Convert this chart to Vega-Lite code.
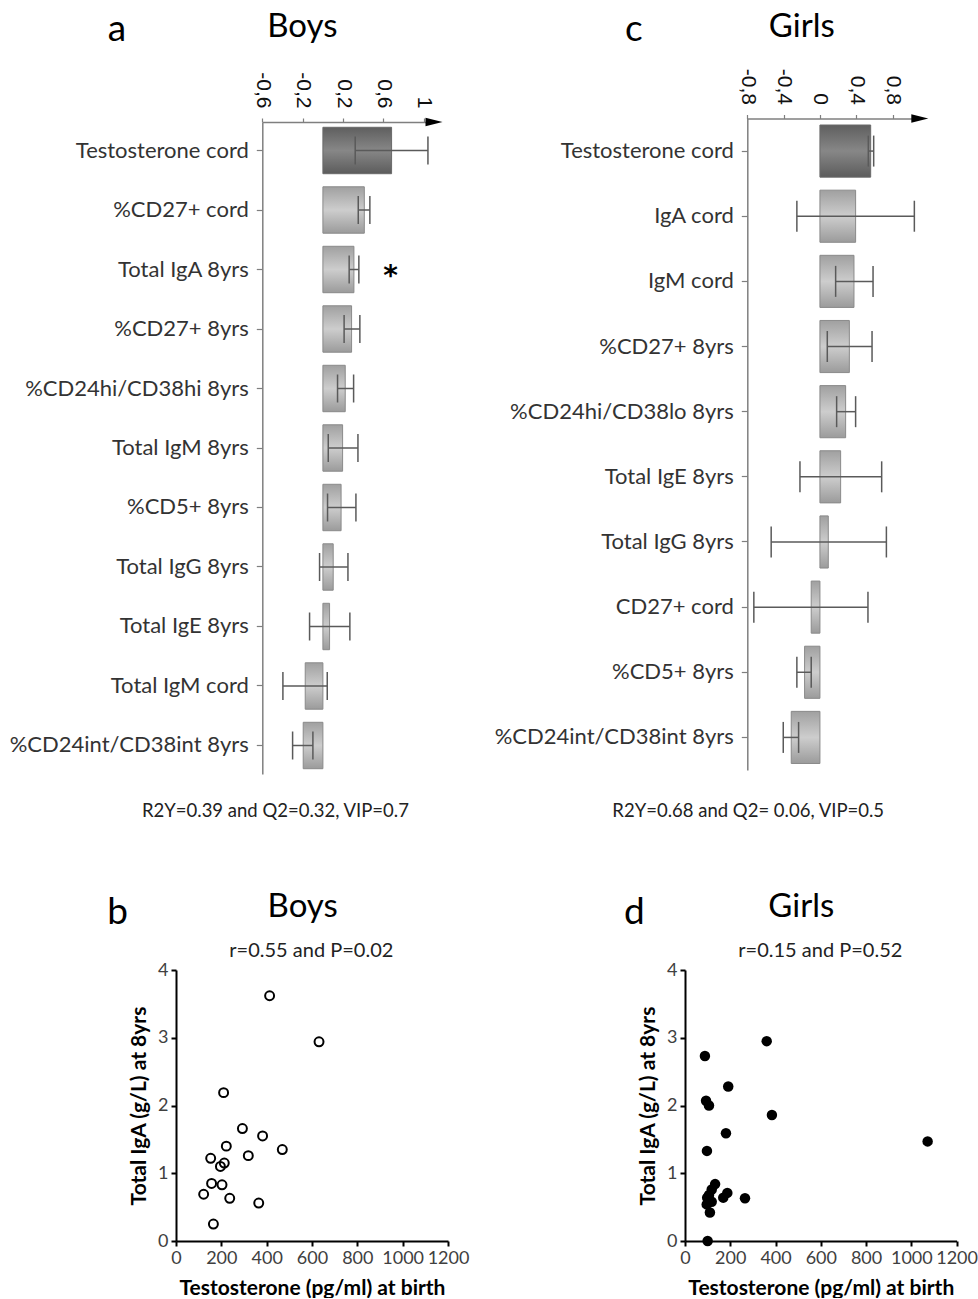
{
  "$schema": "https://vega.github.io/schema/vega-lite/v6.json",
  "background": "white",
  "padding": {"left": 9, "top": 10, "right": 0, "bottom": 0},
  "config": {"view": {"stroke": null}, "font": "Lato"},
  "spacing": 25,
  "hconcat": [
    {
      "spacing": 70,
      "vconcat": [
        {
          "width": 266.3,
          "height": 652,
          "resolve": {"scale": {"y": "independent"}, "axis": {"y": "independent"}},
          "layer": [
            {
              "data": {"values": [
                {"label": "Testosterone cord", "grp": "dark", "v": 0.68, "lo": 0.32, "hi": 1.04},
                {"label": "%CD27+ cord", "grp": "light", "v": 0.41, "lo": 0.35, "hi": 0.465},
                {"label": "Total IgA 8yrs", "grp": "light", "v": 0.307, "lo": 0.26, "hi": 0.356},
                {"label": "%CD27+ 8yrs", "grp": "light", "v": 0.284, "lo": 0.21, "hi": 0.366},
                {"label": "%CD24hi/CD38hi 8yrs", "grp": "light", "v": 0.221, "lo": 0.145, "hi": 0.304},
                {"label": "Total IgM 8yrs", "grp": "light", "v": 0.195, "lo": 0.053, "hi": 0.347},
                {"label": "%CD5+ 8yrs", "grp": "light", "v": 0.18, "lo": 0.046, "hi": 0.327},
                {"label": "Total IgG 8yrs", "grp": "light", "v": 0.102, "lo": -0.033, "hi": 0.248},
                {"label": "Total IgE 8yrs", "grp": "light", "v": 0.066, "lo": -0.132, "hi": 0.267},
                {"label": "Total IgM cord", "grp": "light", "v": -0.175, "lo": -0.396, "hi": 0.043},
                {"label": "%CD24int/CD38int 8yrs", "grp": "light", "v": -0.195, "lo": -0.3, "hi": -0.099}
              ]},
              "encoding": {
                "y": {"field": "label", "type": "nominal", "sort": null,
                  "scale": {"paddingInner": 0.22, "paddingOuter": 0.089},
                  "axis": {"orient": "left", "offset": -86.3, "title": null, "domainColor": "#7f7f7f", "domainWidth": 1.5,
                    "tickColor": "#7f7f7f", "tickSize": 6, "tickWidth": 1.2, "labelFont": "Lato", "labelFontSize": 22,
                    "labelColor": "#333333", "labelPadding": 8, "labelLimit": 400}}
              },
              "layer": [
                {
                  "transform": [{"filter": "datum.grp === 'dark'"}],
                  "mark": {"type": "bar", "stroke": "#6a6a6a", "strokeWidth": 1,
                    "fill": {"gradient": "linear", "x1": 0, "y1": 0, "x2": 0, "y2": 1,
                      "stops": [{"offset": 0, "color": "#5f5f5f"}, {"offset": 0.5, "color": "#878787"}, {"offset": 1, "color": "#5c5c5c"}]}},
                  "encoding": {
                    "x": {"field": "v", "type": "quantitative",
                      "scale": {"domain": [-0.6, 1.1], "range": [86.3, 258.0], "nice": false, "zero": false},
                      "axis": {"orient": "top", "title": null, "values": [-0.6, -0.2, 0.2, 0.6, 1], "format": "~g",
                        "labelExpr": "replace(replace(datum.label, '.', ','), '\u2212', '-')",
                        "labelAngle": 90, "labelFont": "Liberation Sans", "labelFontSize": 21, "labelColor": "#111111",
                        "labelPadding": 10, "labelFlush": false, "labelOverlap": false, "grid": false,
                        "domainColor": "#7f7f7f", "domainWidth": 1.5, "tickColor": "#7f7f7f", "tickSize": 4, "tickWidth": 1.2}},
                    "x2": {"datum": 0}
                  }
                },
                {
                  "transform": [{"filter": "datum.grp === 'light'"}],
                  "mark": {"type": "bar", "stroke": "#8a8a8a", "strokeWidth": 1,
                    "fill": {"gradient": "linear", "x1": 0, "y1": 0, "x2": 0, "y2": 1,
                      "stops": [{"offset": 0, "color": "#a0a0a0"}, {"offset": 0.5, "color": "#cdcdcd"}, {"offset": 1, "color": "#9b9b9b"}]}},
                  "encoding": {"x": {"field": "v", "type": "quantitative"}, "x2": {"datum": 0}}
                },
                {
                  "mark": {"type": "rule", "color": "#5a5a5a", "strokeWidth": 1.5},
                  "encoding": {"x": {"field": "lo", "type": "quantitative"}, "x2": {"field": "hi"}}
                },
                {
                  "mark": {"type": "tick", "orient": "vertical", "size": 28, "thickness": 1.5, "color": "#5a5a5a", "opacity": 1},
                  "encoding": {"x": {"field": "lo", "type": "quantitative"}}
                },
                {
                  "mark": {"type": "tick", "orient": "vertical", "size": 28, "thickness": 1.5, "color": "#5a5a5a", "opacity": 1},
                  "encoding": {"x": {"field": "hi", "type": "quantitative"}}
                },
                {
                  "data": {"values": [{}]},
                  "mark": {"type": "text", "text": "*", "font": "DejaVu Sans", "fontSize": 28, "fontWeight": "bold", "color": "black", "baseline": "middle", "dy": 7},
                  "encoding": {"x": {"datum": 0.67, "type": "quantitative"}, "y": {"datum": "Total IgA 8yrs", "type": "nominal"}}
                }
              ]
            },
            {
              "data": {"values": [{}]},
              "layer": [
                {
                  "mark": {"type": "point", "shape": "M-1,-0.5L1,0L-1,0.5Z", "size": 289, "filled": true, "color": "black", "opacity": 1, "strokeWidth": 0},
                  "encoding": {"x": {"datum": 1.1, "type": "quantitative"}, "y": {"datum": 1, "type": "quantitative", "scale": {"domain": [0, 1]}, "axis": null}}
                },
                {
                  "mark": {"type": "text", "text": "a", "fontSize": 37, "font": "Lato", "color": "black", "align": "center", "baseline": "alphabetic"},
                  "encoding": {"x": {"datum": -2.04, "type": "quantitative"}, "y": {"datum": 1.1242, "type": "quantitative"}}
                },
                {
                  "mark": {"type": "text", "text": "Boys", "fontSize": 33, "font": "Lato", "color": "black", "align": "center", "baseline": "alphabetic"},
                  "encoding": {"x": {"datum": -0.203, "type": "quantitative"}, "y": {"datum": 1.1311, "type": "quantitative"}}
                },
                {
                  "mark": {"type": "text", "text": "R2Y=0.39 and Q2=0.32, VIP=0.7", "fontSize": 18.5, "font": "Lato", "color": "#222222", "align": "center", "baseline": "alphabetic"},
                  "encoding": {"x": {"datum": -0.47, "type": "quantitative"}, "y": {"datum": -0.066, "type": "quantitative"}}
                }
              ]
            }
          ]
        },
        {
          "width": 272,
          "height": 271,
          "layer": [
            {
              "data": {"values": [
                {"t": 413, "iga": 3.62}, {"t": 631, "iga": 2.94}, {"t": 210, "iga": 2.19}, {"t": 293, "iga": 1.66},
                {"t": 382, "iga": 1.55}, {"t": 469, "iga": 1.35}, {"t": 222, "iga": 1.4}, {"t": 319, "iga": 1.26},
                {"t": 153, "iga": 1.22}, {"t": 213, "iga": 1.15}, {"t": 196, "iga": 1.1}, {"t": 157, "iga": 0.85},
                {"t": 203, "iga": 0.83}, {"t": 122, "iga": 0.69}, {"t": 237, "iga": 0.63}, {"t": 365, "iga": 0.56},
                {"t": 165, "iga": 0.25}
              ]},
              "mark": {"type": "point", "shape": "circle", "filled": false, "stroke": "black", "strokeWidth": 2, "size": 80, "opacity": 1},
              "encoding": {
                "x": {"field": "t", "type": "quantitative", "scale": {"domain": [0, 1200], "nice": false},
                  "axis": {"title": "Testosterone (pg/ml) at birth", "values": [0, 200, 400, 600, 800, 1000, 1200], "format": "d", "grid": false,
                    "labelFont": "Lato", "labelFontSize": 18, "labelColor": "#404040", "labelPadding": 3, "labelFlush": false, "labelOverlap": false,
                    "domainColor": "black", "domainWidth": 2, "tickColor": "black", "tickWidth": 2, "tickSize": 5,
                    "titleFont": "Lato", "titleFontWeight": "bold", "titleFontSize": 21, "titleColor": "black", "titlePadding": 10}},
                "y": {"field": "iga", "type": "quantitative", "scale": {"domain": [0, 4], "nice": false},
                  "axis": {"title": "Total IgA (g/L) at 8yrs", "values": [0, 1, 2, 3, 4], "format": "d", "grid": false,
                    "labelFont": "Lato", "labelFontSize": 18, "labelColor": "#404040", "labelPadding": 3, "labelOverlap": false,
                    "domainColor": "black", "domainWidth": 2, "tickColor": "black", "tickWidth": 2, "tickSize": 5,
                    "titleFont": "Lato", "titleFontWeight": "bold", "titleFontSize": 21, "titleColor": "black", "titlePadding": 8}}
              }
            },
            {
              "data": {"values": [{}]},
              "mark": {"type": "text", "text": "b", "fontSize": 37, "font": "Lato", "color": "black", "align": "center", "baseline": "alphabetic"},
              "encoding": {"x": {"datum": -258}, "y": {"datum": 4.68}}
            },
            {
              "data": {"values": [{}]},
              "mark": {"type": "text", "text": "Boys", "fontSize": 33, "font": "Lato", "color": "black", "align": "center", "baseline": "alphabetic"},
              "encoding": {"x": {"datum": 559}, "y": {"datum": 4.775}}
            },
            {
              "data": {"values": [{}]},
              "mark": {"type": "text", "text": "r=0.55 and P=0.02", "fontSize": 20, "font": "Lato", "color": "#222222", "align": "center", "baseline": "alphabetic"},
              "encoding": {"x": {"datum": 597}, "y": {"datum": 4.19}}
            }
          ]
        }
      ]
    },
    {
      "spacing": 70,
      "vconcat": [
        {
          "width": 244.3,
          "height": 651.5,
          "resolve": {"scale": {"y": "independent"}, "axis": {"y": "independent"}},
          "layer": [
            {
              "data": {"values": [
                {"label": "Testosterone cord", "grp": "dark", "v": 0.559, "lo": 0.533, "hi": 0.592},
                {"label": "IgA cord", "grp": "light", "v": 0.393, "lo": -0.254, "hi": 1.04},
                {"label": "IgM cord", "grp": "light", "v": 0.375, "lo": 0.173, "hi": 0.585},
                {"label": "%CD27+ 8yrs", "grp": "light", "v": 0.324, "lo": 0.081, "hi": 0.574},
                {"label": "%CD24hi/CD38lo 8yrs", "grp": "light", "v": 0.283, "lo": 0.184, "hi": 0.393},
                {"label": "Total IgE 8yrs", "grp": "light", "v": 0.228, "lo": -0.22, "hi": 0.68},
                {"label": "Total IgG 8yrs", "grp": "light", "v": 0.092, "lo": -0.537, "hi": 0.732},
                {"label": "CD27+ cord", "grp": "light", "v": -0.096, "lo": -0.728, "hi": 0.529},
                {"label": "%CD5+ 8yrs", "grp": "light", "v": -0.169, "lo": -0.254, "hi": -0.096},
                {"label": "%CD24int/CD38int 8yrs", "grp": "light", "v": -0.316, "lo": -0.404, "hi": -0.235}
              ]},
              "encoding": {
                "y": {"field": "label", "type": "nominal", "sort": null,
                  "scale": {"paddingInner": 0.2, "paddingOuter": 0.1, "range": [-3.5, 648]},
                  "axis": {"orient": "left", "offset": -62.3, "title": null, "domainColor": "#7f7f7f", "domainWidth": 1.5,
                    "tickColor": "#7f7f7f", "tickSize": 6, "tickWidth": 1.2, "labelFont": "Lato", "labelFontSize": 22,
                    "labelColor": "#333333", "labelPadding": 8, "labelLimit": 400}}
              },
              "layer": [
                {
                  "transform": [{"filter": "datum.grp === 'dark'"}],
                  "mark": {"type": "bar", "stroke": "#6a6a6a", "strokeWidth": 1,
                    "fill": {"gradient": "linear", "x1": 0, "y1": 0, "x2": 0, "y2": 1,
                      "stops": [{"offset": 0, "color": "#5f5f5f"}, {"offset": 0.5, "color": "#878787"}, {"offset": 1, "color": "#5c5c5c"}]}},
                  "encoding": {
                    "x": {"field": "v", "type": "quantitative",
                      "scale": {"domain": [-0.8, 1.1], "range": [62.3, 234.8], "nice": false, "zero": false},
                      "axis": {"orient": "top", "offset": 3.5, "title": null, "values": [-0.8, -0.4, 0, 0.4, 0.8], "format": "~g",
                        "labelExpr": "replace(replace(datum.label, '.', ','), '\u2212', '-')",
                        "labelAngle": 90, "labelFont": "Liberation Sans", "labelFontSize": 21, "labelColor": "#111111",
                        "labelPadding": 10, "labelFlush": false, "labelOverlap": false, "grid": false,
                        "domainColor": "#7f7f7f", "domainWidth": 1.5, "tickColor": "#7f7f7f", "tickSize": 4, "tickWidth": 1.2}},
                    "x2": {"datum": 0}
                  }
                },
                {
                  "transform": [{"filter": "datum.grp === 'light'"}],
                  "mark": {"type": "bar", "stroke": "#8a8a8a", "strokeWidth": 1,
                    "fill": {"gradient": "linear", "x1": 0, "y1": 0, "x2": 0, "y2": 1,
                      "stops": [{"offset": 0, "color": "#a0a0a0"}, {"offset": 0.5, "color": "#cdcdcd"}, {"offset": 1, "color": "#9b9b9b"}]}},
                  "encoding": {"x": {"field": "v", "type": "quantitative"}, "x2": {"datum": 0}}
                },
                {
                  "mark": {"type": "rule", "color": "#5a5a5a", "strokeWidth": 1.5},
                  "encoding": {"x": {"field": "lo", "type": "quantitative"}, "x2": {"field": "hi"}}
                },
                {
                  "mark": {"type": "tick", "orient": "vertical", "size": 31, "thickness": 1.5, "color": "#5a5a5a", "opacity": 1},
                  "encoding": {"x": {"field": "lo", "type": "quantitative"}}
                },
                {
                  "mark": {"type": "tick", "orient": "vertical", "size": 31, "thickness": 1.5, "color": "#5a5a5a", "opacity": 1},
                  "encoding": {"x": {"field": "hi", "type": "quantitative"}}
                }
              ]
            },
            {
              "data": {"values": [{}]},
              "layer": [
                {
                  "mark": {"type": "point", "shape": "M-1,-0.5L1,0L-1,0.5Z", "size": 289, "filled": true, "color": "black", "opacity": 1, "strokeWidth": 0},
                  "encoding": {"x": {"datum": 1.1, "type": "quantitative"}, "y": {"datum": 1.0054, "type": "quantitative", "scale": {"domain": [0, 1]}, "axis": null}}
                },
                {
                  "mark": {"type": "text", "text": "c", "fontSize": 37, "font": "Lato", "color": "black", "align": "center", "baseline": "alphabetic"},
                  "encoding": {"x": {"datum": -2.05, "type": "quantitative"}, "y": {"datum": 1.1243, "type": "quantitative"}}
                },
                {
                  "mark": {"type": "text", "text": "Girls", "fontSize": 33, "font": "Lato", "color": "black", "align": "center", "baseline": "alphabetic"},
                  "encoding": {"x": {"datum": -0.2, "type": "quantitative"}, "y": {"datum": 1.131, "type": "quantitative"}}
                },
                {
                  "mark": {"type": "text", "text": "R2Y=0.68 and Q2= 0.06, VIP=0.5", "fontSize": 18.5, "font": "Lato", "color": "#222222", "align": "center", "baseline": "alphabetic"},
                  "encoding": {"x": {"datum": -0.79, "type": "quantitative"}, "y": {"datum": -0.0668, "type": "quantitative"}}
                }
              ]
            }
          ]
        },
        {
          "width": 271.6,
          "height": 271,
          "layer": [
            {
              "data": {"values": [
                {"t": 88, "iga": 2.73}, {"t": 361, "iga": 2.95}, {"t": 191, "iga": 2.28}, {"t": 93, "iga": 2.07},
                {"t": 106, "iga": 2.0}, {"t": 384, "iga": 1.86}, {"t": 181, "iga": 1.59}, {"t": 1072, "iga": 1.47},
                {"t": 97, "iga": 1.33}, {"t": 133, "iga": 0.84}, {"t": 118, "iga": 0.76}, {"t": 106, "iga": 0.68},
                {"t": 96, "iga": 0.54}, {"t": 118, "iga": 0.58}, {"t": 110, "iga": 0.42}, {"t": 187, "iga": 0.71},
                {"t": 169, "iga": 0.64}, {"t": 265, "iga": 0.63}, {"t": 100, "iga": 0.0}, {"t": 98, "iga": 0.64}
              ]},
              "mark": {"type": "circle", "color": "black", "size": 110, "opacity": 1},
              "encoding": {
                "x": {"field": "t", "type": "quantitative", "scale": {"domain": [0, 1200], "nice": false},
                  "axis": {"title": "Testosterone (pg/ml) at birth", "values": [0, 200, 400, 600, 800, 1000, 1200], "format": "d", "grid": false,
                    "labelFont": "Lato", "labelFontSize": 18, "labelColor": "#404040", "labelPadding": 3, "labelFlush": false, "labelOverlap": false,
                    "domainColor": "black", "domainWidth": 2, "tickColor": "black", "tickWidth": 2, "tickSize": 5,
                    "titleFont": "Lato", "titleFontWeight": "bold", "titleFontSize": 21, "titleColor": "black", "titlePadding": 10}},
                "y": {"field": "iga", "type": "quantitative", "scale": {"domain": [0, 4], "nice": false},
                  "axis": {"title": "Total IgA (g/L) at 8yrs", "values": [0, 1, 2, 3, 4], "format": "d", "grid": false,
                    "labelFont": "Lato", "labelFontSize": 18, "labelColor": "#404040", "labelPadding": 3, "labelOverlap": false,
                    "domainColor": "black", "domainWidth": 2, "tickColor": "black", "tickWidth": 2, "tickSize": 5,
                    "titleFont": "Lato", "titleFontWeight": "bold", "titleFontSize": 21, "titleColor": "black", "titlePadding": 8}}
              }
            },
            {
              "data": {"values": [{}]},
              "mark": {"type": "text", "text": "d", "fontSize": 37, "font": "Lato", "color": "black", "align": "center", "baseline": "alphabetic"},
              "encoding": {"x": {"datum": -224}, "y": {"datum": 4.68}}
            },
            {
              "data": {"values": [{}]},
              "mark": {"type": "text", "text": "Girls", "fontSize": 33, "font": "Lato", "color": "black", "align": "center", "baseline": "alphabetic"},
              "encoding": {"x": {"datum": 514}, "y": {"datum": 4.775}}
            },
            {
              "data": {"values": [{}]},
              "mark": {"type": "text", "text": "r=0.15 and P=0.52", "fontSize": 20, "font": "Lato", "color": "#222222", "align": "center", "baseline": "alphabetic"},
              "encoding": {"x": {"datum": 598}, "y": {"datum": 4.19}}
            }
          ]
        }
      ]
    }
  ]
}
